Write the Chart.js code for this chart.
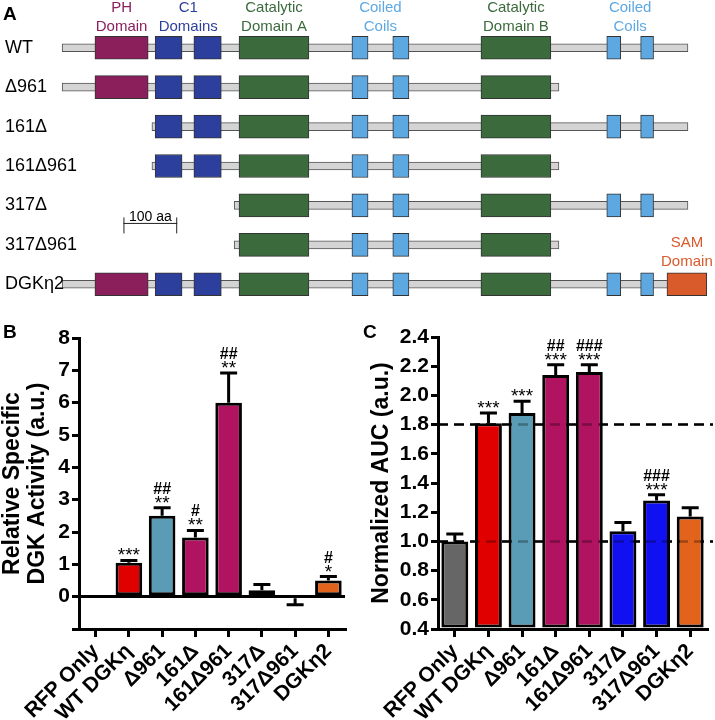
<!DOCTYPE html>
<html>
<head>
<meta charset="utf-8">
<script src="https://cdn.jsdelivr.net/npm/chart.js@4.4.1/dist/chart.umd.min.js"></script>
<style>
  body { margin: 0; background: #fff; }
  #wrap { position: relative; width: 715px; height: 720px; background: #fff; font-family: 'Liberation Sans', Arial, sans-serif; }
  .box { position: absolute; }
  .tag { position: absolute; font-weight: bold; font-size: 19px; line-height: 1; }
</style>
</head>
<body>
<div id="wrap">
  <div class="box" style="left:0;top:0;width:715px;height:310px"><canvas id="domains"></canvas></div>
  <div class="box" style="left:0;top:315px;width:355px;height:405px"><canvas id="activity"></canvas></div>
  <div class="box" style="left:355px;top:315px;width:360px;height:405px"><canvas id="auc"></canvas></div>
  <div class="tag" style="left:3px;top:4px">A</div>
  <div class="tag" style="left:3px;top:322px">B</div>
  <div class="tag" style="left:363px;top:322px">C</div>
</div>
<script>
Chart.defaults.font.family = "'Liberation Sans', Arial, sans-serif";
Chart.defaults.color = '#000';
Chart.defaults.animation = false;
Chart.defaults.plugins.legend.display = false;
Chart.defaults.plugins.tooltip.enabled = false;

// ---- panel A: constructs, positions in amino acids ----
const constructs = ['WT', 'Δ961', '161Δ', '161Δ961', '317Δ', '317Δ961', 'DGKη2'];
const backbone   = [[0, 1164], [0, 924], [167, 1164], [167, 924], [320, 1164], [320, 924], [0, 1199]];
const phDomain   = [[61, 160], [61, 160], null, null, null, null, [61, 160]];
const c1First    = [[173, 223], [173, 223], [173, 223], [173, 223], null, null, [173, 223]];
const c1Second   = [[245, 296], [245, 296], [245, 296], [245, 296], null, null, [245, 296]];
const catA       = [[329, 459], [329, 459], [329, 459], [329, 459], [329, 459], [329, 459], [329, 459]];
const coil1      = [[539, 569], [539, 569], [539, 569], [539, 569], [539, 569], [539, 569], [539, 569]];
const coil2      = [[615, 645], [615, 645], [615, 645], [615, 645], [615, 645], [615, 645], [615, 645]];
const catB       = [[779, 909], [779, 909], [779, 909], [779, 909], [779, 909], [779, 909], [779, 909]];
const coil3      = [[1013, 1039], null, [1013, 1039], null, [1013, 1039], null, [1013, 1039]];
const coil4      = [[1076, 1100], null, [1076, 1100], null, [1076, 1100], null, [1076, 1100]];
const samDomain  = [null, null, null, null, null, null, [1125, 1199]];
const scaleBarStart = 114;
const scaleBarLen = 100;

// ---- panels B and C ----
const groups = ['RFP Only', 'WT DGKη', 'Δ961', '161Δ', '161Δ961', '317Δ', '317Δ961', 'DGKη2'];
const activity    = [0, 1.05, 2.5, 1.83, 6.0, 0.2, -0.05, 0.5];
const activityErr = [0, 0.07, 0.25, 0.22, 0.92, 0.18, 0.2, 0.12];
const activitySig = [[], ['***'], ['##', '**'], ['#', '**'], ['##', '**'], [], [], ['#', '*']];
const auc    = [1.0, 1.81, 1.88, 2.14, 2.16, 1.07, 1.28, 1.17];
const aucErr = [0.05, 0.07, 0.08, 0.07, 0.05, 0.06, 0.04, 0.06];
const aucSig = [[], ['***'], ['***'], ['##', '***'], ['###', '***'], [], ['###', '***'], []];
const aucRefLines = [1.0, 1.8];

const PH = '#8b1f5c', C1 = '#2c3f9c', CAT = '#3b6a3c', CC = '#5ea8e2', SAM = '#d95a2b';
const barColors = ['#666666', '#e00000', '#5a9cb5', '#b0135f', '#b0135f', '#1010f0', '#1010f0', '#e2631c'];

const domainBar = (data, color) => ({
  data, backgroundColor: color, borderColor: '#333', borderWidth: 1,
  borderSkipped: false, barThickness: 23, grouped: false, order: 0
});

const mid = r => (r[0] + r[1]) / 2;
const headLabels = [
  { text: ['PH', 'Domain'], at: mid(phDomain[0]), color: PH },
  { text: ['C1', 'Domains'], at: (c1First[0][0] + c1Second[0][1]) / 2, color: C1 },
  { text: ['Catalytic', 'Domain A'], at: mid(catA[0]), color: CAT },
  { text: ['Coiled', 'Coils'], at: (coil1[0][0] + coil2[0][1]) / 2, color: CC },
  { text: ['Catalytic', 'Domain B'], at: mid(catB[0]), color: CAT },
  { text: ['Coiled', 'Coils'], at: (coil3[0][0] + coil4[0][1]) / 2, color: CC }
];

const domainText = {
  id: 'domainText',
  afterDraw(chart) {
    const { ctx, scales: { x, y } } = chart;
    ctx.save();
    // row names
    ctx.fillStyle = '#000';
    ctx.font = "18px 'Liberation Sans', Arial, sans-serif";
    ctx.textAlign = 'left';
    ctx.textBaseline = 'middle';
    chart.data.labels.forEach((name, i) => ctx.fillText(name, 5, y.getPixelForValue(i)));

    ctx.font = "15px 'Liberation Sans', Arial, sans-serif";
    ctx.textAlign = 'center';
    headLabels.forEach(l => {
      ctx.fillStyle = l.color;
      const px = x.getPixelForValue(l.at);
      ctx.fillText(l.text[0], px, 8);
      ctx.fillText(l.text[1], px, 27);
    });
    const last = constructs.length - 1;
    const samX = x.getPixelForValue(mid(samDomain[last]));
    const rowY = y.getPixelForValue(last);
    ctx.fillStyle = SAM;
    ctx.fillText('SAM', samX, rowY - 41);
    ctx.fillText('Domain', samX, rowY - 22);

    // scale bar
    const x0 = x.getPixelForValue(scaleBarStart), x1 = x.getPixelForValue(scaleBarStart + scaleBarLen);
    const yb = y.getPixelForValue(4) + 18;
    ctx.strokeStyle = '#222';
    ctx.lineWidth = 1;
    ctx.beginPath();
    ctx.moveTo(x0, yb); ctx.lineTo(x1, yb);
    ctx.moveTo(x0 + 0.5, yb - 6); ctx.lineTo(x0 + 0.5, yb + 10);
    ctx.moveTo(x1 - 0.5, yb - 6); ctx.lineTo(x1 - 0.5, yb + 10);
    ctx.stroke();
    ctx.fillStyle = '#000';
    ctx.font = "14px 'Liberation Sans', Arial, sans-serif";
    ctx.textBaseline = 'alphabetic';
    ctx.fillText('100 aa', (x0 + x1) / 2, yb - 2);
    ctx.restore();
  }
};

new Chart(document.getElementById('domains'), {
  type: 'bar',
  data: {
    labels: constructs,
    datasets: [
      { data: backbone, backgroundColor: '#d4d4d4', borderColor: '#555', borderWidth: 1,
        borderSkipped: false, barThickness: 8, grouped: false, order: 1 },
      domainBar(phDomain, PH),
      domainBar(c1First, C1),
      domainBar(c1Second, C1),
      domainBar(catA, CAT),
      domainBar(coil1, CC),
      domainBar(coil2, CC),
      domainBar(catB, CAT),
      domainBar(coil3, CC),
      domainBar(coil4, CC),
      domainBar(samDomain, SAM)
    ]
  },
  options: {
    indexAxis: 'y',
    responsive: true,
    maintainAspectRatio: false,
    layout: { padding: { left: 60, right: 5, top: 28, bottom: 6 } },
    scales: {
      x: { type: 'linear', min: -4, max: 1205, display: false },
      y: { display: false }
    }
  },
  plugins: [domainText]
});

// error bars, significance marks and dashed reference lines
const errBars = {
  id: 'errbars',
  beforeDatasetsDraw(chart, args, opts) {
    if (!opts.refLines) return;
    const { ctx, chartArea: a, scales: { y } } = chart;
    ctx.save();
    ctx.strokeStyle = '#000';
    ctx.lineWidth = 2.5;
    ctx.setLineDash([10, 6]);
    opts.refLines.forEach(v => {
      const py = y.getPixelForValue(v);
      ctx.beginPath(); ctx.moveTo(a.left, py); ctx.lineTo(a.right + 6, py); ctx.stroke();
    });
    ctx.restore();
  },
  afterDatasetsDraw(chart, args, opts) {
    const { ctx, scales: { y } } = chart;
    const meta = chart.getDatasetMeta(0);
    const vals = chart.data.datasets[0].data;
    ctx.save();
    if (opts.refLines) {
      ctx.strokeStyle = 'rgba(0,0,0,0.3)';
      ctx.lineWidth = 2.5;
      ctx.setLineDash([10, 6]);
      opts.refLines.forEach(v => {
        const py = y.getPixelForValue(v);
        ctx.beginPath(); ctx.moveTo(chart.chartArea.left, py); ctx.lineTo(chart.chartArea.right + 6, py); ctx.stroke();
      });
      ctx.setLineDash([]);
    }
    ctx.strokeStyle = '#000';
    ctx.lineWidth = 3;
    meta.data.forEach((bar, i) => {
      const v = vals[i], e = opts.err[i];
      const dir = v < 0 ? -1 : 1;
      const y0 = y.getPixelForValue(v), y1 = y.getPixelForValue(v + dir * e);
      if (e > 0) {
        ctx.beginPath();
        ctx.moveTo(bar.x, y0); ctx.lineTo(bar.x, y1);
        ctx.moveTo(bar.x - 8.5, y1); ctx.lineTo(bar.x + 8.5, y1);
        ctx.stroke();
      }
      const marks = opts.sig[i];
      ctx.fillStyle = '#000';
      ctx.textAlign = 'center';
      ctx.textBaseline = 'alphabetic';
      let by = y1 + 1;
      for (let k = marks.length - 1; k >= 0; k--) {
        const m = marks[k];
        ctx.font = m[0] === '*' ? "19px 'Liberation Sans', Arial, sans-serif"
                                : "bold 16px 'Liberation Sans', Arial, sans-serif";
        ctx.fillText(m, bar.x, by);
        by -= 15;
      }
    });
    ctx.restore();
  }
};

function barPanel(id, values, opts) {
  return new Chart(document.getElementById(id), {
    type: 'bar',
    data: {
      labels: groups,
      datasets: [{
        data: values,
        backgroundColor: barColors,
        borderColor: '#000',
        borderWidth: 3,
        borderSkipped: false,
        barPercentage: 0.8,
        categoryPercentage: 1,
        base: opts.base
      }]
    },
    options: {
      responsive: true,
      maintainAspectRatio: false,
      layout: { padding: { left: 0, right: opts.right, top: opts.top, bottom: 0 } },
      scales: {
        x: {
          offset: true,
          grid: { display: true, drawOnChartArea: false, offset: false, tickLength: 8, lineWidth: 3, color: '#000' },
          border: { display: true, width: 3, color: '#000' },
          ticks: { autoSkip: false, maxRotation: 45, minRotation: 45, padding: 2, color: '#000',
                   font: { size: 21, weight: 'bold' } },
          afterFit: s => { s.height = 91; s.paddingLeft = 0; s.paddingRight = 0; }
        },
        y: {
          min: opts.min, max: opts.max,
          ticks: { stepSize: opts.step, padding: 2, color: '#000', font: { size: 21, weight: 'bold' },
                   callback: opts.tickFmt },
          grid: { drawOnChartArea: opts.zeroLine, lineWidth: 3, tickLength: 7, tickColor: '#000',
                  color: c => (c.tick && c.tick.value === 0) ? '#000' : 'rgba(0,0,0,0)' },
          border: { display: true, width: 3, color: '#000' },
          title: { display: true, text: opts.title, color: '#000',
                   font: { size: 23, weight: 'bold', lineHeight: 1.1 }, padding: { top: opts.titlePad, bottom: 0 } },
          afterFit: s => { s.width = opts.axisW; s.paddingTop = 0; s.paddingBottom = 0; }
        }
      },
      plugins: { errbars: { err: opts.err, sig: opts.sig, refLines: opts.refLines } }
    },
    plugins: [errBars]
  });
}

barPanel('activity', activity, {
  min: -1, max: 8, step: 1, base: 0, zeroLine: true,
  tickFmt: v => (v < 0 ? '' : v),
  title: ['Relative Specific', 'DGK Activity (a.u.)'], titlePad: 0,
  axisW: 79, right: 10, top: 23,
  err: activityErr, sig: activitySig, refLines: null
});

barPanel('auc', auc, {
  min: 0.4, max: 2.4, step: 0.2, base: 0.4, zeroLine: false,
  tickFmt: v => v.toFixed(1),
  title: 'Normalized AUC (a.u.)', titlePad: 14,
  axisW: 83, right: 8, top: 22,
  err: aucErr, sig: aucSig, refLines: aucRefLines
});
</script>
</body>
</html>
